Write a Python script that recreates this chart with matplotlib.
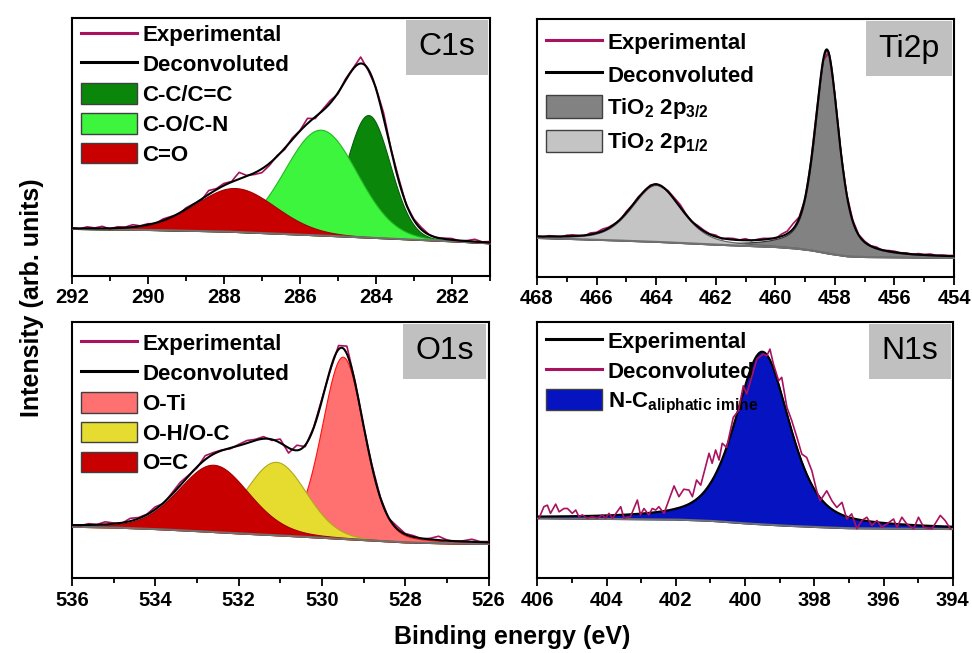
import numpy as np
import matplotlib.pyplot as plt
from matplotlib.lines import Line2D
from matplotlib.patches import Patch

plt.rcParams['font.family'] = 'Liberation Sans'
plt.rcParams['mathtext.fontset'] = 'custom'
plt.rcParams['mathtext.rm'] = 'Liberation Sans'
plt.rcParams['mathtext.bf'] = 'Liberation Sans:bold'

# ---- data (y in arbitrary units, 0-100 per panel) ----
# C1s
c1s_bg_x = [292, 290, 288, 286, 284, 282, 281]
c1s_bg_y = [18.1, 17.7, 17.1, 15.9, 14.6, 13.3, 12.5]
c1s_names = ['C-C/C=C', 'C-O/C-N', 'C=O']
c1s_center = [284.2, 285.45, 287.7]
c1s_amp = [47.5, 41.0, 17.0]
c1s_fwhm = [1.35, 2.25, 2.5]
c1s_eta = [0.05, 0.05, 0.1]
c1s_resid = [0.3, -0.2, 0.6, 0.2, 0.8, -0.3, 0.5, 0.2, 0.9, 0.1, 0.4, -0.3, 0.6, 0.3,
             -0.4, 0.5, 0.2, -0.5, 1.5, 0.4, 0.8, 0.2, 2.6, 0.3, -0.6, -1.5, -0.8, 0.3,
             -0.5, 0.6, 0.2, 2.0, -0.6, 0.5, 1.0, -0.4, 0.6, 0.3, 2.5, -0.5, 0.4, 2.0,
             0.5, 1.0, -0.3, 0.4, 0.8, 0.1, -0.2, 0.3, 0.5, -0.2, 0.2, 0.9, 0.1, 0.4]

# Ti2p
ti_bg_x = [468, 466, 464, 462, 460, 459.3, 458.8, 458.2, 457.6, 457, 454]
ti_bg_y = [15.1, 14.4, 13.6, 12.5, 11.6, 11.0, 10.3, 9.0, 8.0, 7.7, 7.4]
ti_names = [r'TiO$_\mathbf{2}$ 2p$_\mathbf{3/2}$', r'TiO$_\mathbf{2}$ 2p$_\mathbf{1/2}$']
ti_center = [458.27, 464.0]
ti_amp = [78.8, 22.0]
ti_fwhm = [0.95, 1.95]
ti_eta = [0.55, 0.4]
ti_resid = [0.2, -0.3, 0.3, 0.1, -0.2, 0.4, 0.5, 0.1, -0.2, 0.6, 0.3, 0.8, 0.4, 0.2,
            -0.3, 0.5, 0.2, 0.4, -0.4, 0.3, 0.2, -0.3, 0.4, 0.6, 1.0, 0.3, -0.2, 0.5,
            0.4, 0.2, 0.6, -0.3, 0.4, 0.5, 0.1, 0.6, -0.2, 0.3, 0.5, 0.2, -0.4, 0.8,
            1.0, 2.0, 0.5, -0.5, 0.3, 0.6, 0.2, 0.4, 0.5, -0.2, 0.3, 0.5, 0.2, 0.4,
            0.1, 0.5, -0.2, 0.3, 0.4, 0.1, 0.3, -0.2, 0.4, 0.2, 0.5, 0.1, 0.3, 0.2, 0.3]

# O1s
o1s_bg_x = [536, 535, 534, 533, 532, 531, 530, 529, 528, 527, 526]
o1s_bg_y = [20.1, 19.8, 19.2, 18.4, 17.5, 16.7, 15.8, 14.9, 14.0, 13.6, 13.4]
o1s_names = ['O-Ti', 'O-H/O-C', 'O=C']
o1s_center = [529.5, 531.1, 532.6]
o1s_amp = [71.0, 28.6, 26.2]
o1s_fwhm = [1.2, 1.7, 2.0]
o1s_eta = [0.2, 0.1, 0.2]
o1s_resid = [0.2, -0.3, 0.5, 0.1, 1.0, 0.3, -0.2, 1.1, 0.4, 0.2, 1.0, -0.3, 0.6, 1.2,
             0.3, -0.4, 1.5, 0.6, 0.2, -0.3, 0.5, 1.0, 0.4, 0.8, -0.4, 1.5, -2.0, 2.0,
             -0.6, 0.3, 0.6, -0.5, 1.5, 3.0, 0.5, -0.4, 0.5, 0.2, -0.3, 1.0, 0.3, 0.5,
             -0.2, 0.4, 1.5, 0.3, -0.2, 0.3, 1.0, 0.2, 0.3]

# N1s
n1s_bg_x = [406, 402, 401, 400, 399, 398, 397, 394]
n1s_bg_y = [23.4, 22.9, 22.4, 21.4, 20.6, 20.0, 19.5, 19.2]
n1s_center = [399.5]
n1s_amp = [67.3]
n1s_fwhm = [1.85]
n1s_eta = [0.5]
n1s_exp_x = [405.95, 405.81, 405.71, 405.62, 405.47, 405.37, 405.23, 405.13, 404.99, 404.89,
             404.80, 404.70, 404.56, 404.41, 404.27, 404.12, 404.03, 403.93, 403.83, 403.59,
             403.50, 403.31, 403.11, 403.02, 402.92, 402.78, 402.68, 402.58, 402.49, 402.34,
             402.20, 402.05, 401.91, 401.77, 401.62, 401.52, 401.40, 401.28, 401.14, 401.04,
             400.95, 400.85, 400.75, 400.66, 400.53, 400.34, 400.19, 400.05, 399.95, 399.81,
             399.66, 399.47, 399.37, 399.28, 399.18, 399.03, 398.94, 398.79, 398.65, 398.50,
             398.36, 398.22, 398.07, 397.93, 397.83, 397.64, 397.49, 397.35, 397.20, 397.06,
             396.92, 396.77, 396.63, 396.48, 396.34, 396.19, 396.05, 395.90, 395.71, 395.61,
             395.47, 395.33, 395.13, 394.99, 394.84, 394.60, 394.36, 394.22, 394.07]
n1s_exp_y = [23.4, 27.9, 28.5, 25.3, 28.9, 25.9, 27.2, 27.2, 25.3, 26.6,
             24.0, 24.7, 23.4, 24.0, 23.4, 24.7, 23.4, 25.3, 23.4, 27.9,
             23.4, 24.0, 30.5, 24.7, 27.2, 24.7, 27.2, 26.6, 27.9, 25.3,
             30.5, 36.0, 31.8, 34.7, 34.4, 31.8, 38.3, 36.3, 43.5, 48.7,
             44.8, 50.0, 46.1, 52.6, 51.0, 62.7, 65.3, 75.0, 71.8, 78.3,
             85.4, 87.4, 86.7, 89.3, 83.5, 77.0, 78.3, 66.6, 61.4, 54.9,
             48.4, 47.1, 41.9, 34.1, 30.2, 34.1, 30.2, 27.6, 29.6, 23.1,
             25.1, 19.3, 22.5, 23.8, 20.6, 22.5, 19.9, 21.2, 23.1, 19.9,
             23.8, 21.2, 19.3, 23.8, 19.9, 19.3, 24.5, 22.5, 19.3]

MAG = '#a8125f'


def pvoigt(x, c, a, f, eta):
    d2 = 4 * (x - c) ** 2 / f ** 2
    return a * (eta / (1 + d2) + (1 - eta) * np.exp(-np.log(2) * d2))


def background(x, bx, by):
    return np.interp(x, bx[::-1], by[::-1])


def style_axes(ax, xlim, label):
    ax.set_xlim(*xlim)
    ax.set_ylim(0, 100)
    ax.set_yticks([])
    ax.set_xticks(np.arange(xlim[0], xlim[1] - 0.1, -2))
    ax.set_xticks(np.arange(xlim[0], xlim[1] - 0.1, -1), minor=True)
    ax.tick_params(axis='x', which='major', direction='out', length=6, width=1.3,
                   labelsize=14.5, pad=3)
    ax.tick_params(axis='x', which='minor', direction='out', length=3.5, width=1.3)
    for t in ax.get_xticklabels():
        t.set_fontweight('bold')
    for s in ax.spines.values():
        s.set_linewidth(1.5)
    ax.annotate(label, xy=(1, 1), xycoords='axes fraction', xytext=(-10.5, -10.5),
                textcoords='offset points', ha='right', va='top', fontsize=23,
                bbox=dict(boxstyle='square,pad=0.39', fc='#c0c0c0', ec='none'))


def legend(ax, handles, labels, top=0.977, hh=1.05, sp=0.31):
    ax.legend(handles, labels, loc='upper left', frameon=False,
              bbox_to_anchor=(0.022, top),
              prop={'weight': 'bold', 'size': 16}, handlelength=2.5, handleheight=hh,
              handletextpad=0.25, labelspacing=sp, borderpad=0, borderaxespad=0)


fig = plt.figure(figsize=(9.72, 6.53), dpi=100)
ax1 = fig.add_axes([0.074, 0.578, 0.430, 0.395])
ax2 = fig.add_axes([0.5525, 0.576, 0.429, 0.395])
ax3 = fig.add_axes([0.074, 0.1144, 0.4286, 0.393])
ax4 = fig.add_axes([0.5528, 0.1144, 0.4274, 0.393])


def spectrum(ax, xlim, bx, by, centers, amps, fwhms, etas, colors, edges, resid):
    x = np.linspace(xlim[0], xlim[1], 600)
    bg = background(x, bx, by)
    total = bg.copy()
    for i in range(len(centers)):
        p = pvoigt(x, centers[i], amps[i], fwhms[i], etas[i])
        total += p
        ax.fill_between(x, bg, bg + p, facecolor=colors[i], edgecolor=edges[i],
                        lw=0.8, zorder=2 + i)
    ax.plot(x, bg, color='#707070', lw=1.5, zorder=6)
    if resid is not None:
        xe = np.linspace(xlim[0], xlim[1], len(resid))
        ye = background(xe, bx, by) + sum(pvoigt(xe, centers[i], amps[i], fwhms[i], etas[i])
                                          for i in range(len(centers)))
        ax.plot(xe, ye + np.array(resid), color=MAG, lw=1.2, zorder=7)
    ax.plot(x, total, color='black', lw=1.5, zorder=8)


# C1s
c1s_cols = ['#0a860a', '#3cf53c', '#c80000']
c1s_edges = ['#066006', '#22b822', '#a00000']
spectrum(ax1, (292, 281), c1s_bg_x, c1s_bg_y, c1s_center, c1s_amp, c1s_fwhm, c1s_eta,
         c1s_cols, c1s_edges, c1s_resid)
style_axes(ax1, (292, 281), 'C1s')
h = [Line2D([], [], color=MAG, lw=2.2), Line2D([], [], color='black', lw=2.2)]
h += [Patch(facecolor=c, edgecolor='#404040', lw=1) for c in c1s_cols]
legend(ax1, h, ['Experimental', 'Deconvoluted'] + c1s_names)

# Ti2p
ti_cols = ['#828282', '#c4c4c4']
ti_edges = ['#303030', '#606060']
spectrum(ax2, (468, 454), ti_bg_x, ti_bg_y, ti_center, ti_amp, ti_fwhm, ti_eta,
         ti_cols, ti_edges, ti_resid)
style_axes(ax2, (468, 454), 'Ti2p')
h = [Line2D([], [], color=MAG, lw=2.2), Line2D([], [], color='black', lw=2.2)]
h += [Patch(facecolor=c, edgecolor='#404040', lw=1) for c in ti_cols]
legend(ax2, h, ['Experimental', 'Deconvoluted'] + ti_names, top=0.955, hh=1.2, sp=0.38)

# O1s
o1s_cols = ['#ff7070', '#e6dc30', '#c80000']
o1s_edges = ['#ff1010', '#b0a820', '#a00000']
spectrum(ax3, (536, 526), o1s_bg_x, o1s_bg_y, o1s_center, o1s_amp, o1s_fwhm, o1s_eta,
         o1s_cols, o1s_edges, o1s_resid)
style_axes(ax3, (536, 526), 'O1s')
h = [Line2D([], [], color=MAG, lw=2.2), Line2D([], [], color='black', lw=2.2)]
h += [Patch(facecolor=c, edgecolor='#404040', lw=1) for c in o1s_cols]
legend(ax3, h, ['Experimental', 'Deconvoluted'] + o1s_names, top=0.958)

# N1s
spectrum(ax4, (406, 394), n1s_bg_x, n1s_bg_y, n1s_center, n1s_amp, n1s_fwhm, n1s_eta,
         ['#0514c0'], ['#000060'], None)
ax4.plot(n1s_exp_x, n1s_exp_y, color=MAG, lw=1.2, zorder=9)
style_axes(ax4, (406, 394), 'N1s')
h = [Line2D([], [], color='black', lw=2.2), Line2D([], [], color=MAG, lw=2.2),
     Patch(facecolor='#0514c0', edgecolor='#404040', lw=1)]
legend(ax4, h, ['Experimental', 'Deconvoluted', r'N-C$_\mathbf{aliphatic\ imine}$'],
       top=0.968)

fig.text(0.033, 0.544, 'Intensity (arb. units)', rotation=90, ha='center', va='center',
         fontsize=18, fontweight='bold')
fig.text(0.527, 0.024, 'Binding energy (eV)', ha='center', va='center',
         fontsize=18, fontweight='bold')

fig.savefig('out.png', dpi=100)
